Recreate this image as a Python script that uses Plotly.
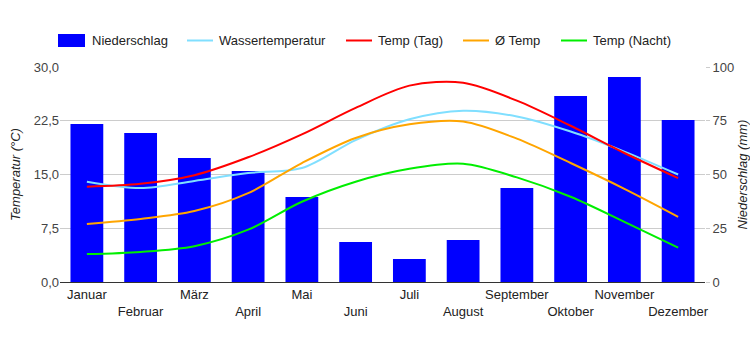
import plotly.graph_objects as go

months = ["Januar", "Februar", "März", "April", "Mai", "Juni", "Juli",
          "August", "September", "Oktober", "November", "Dezember"]
niederschlag = [73.5, 69.3, 57.7, 51.6, 39.5, 18.6, 10.7, 19.5, 43.7, 86.5, 95.3, 75.3]
wasser = [14.0, 13.1, 14.1, 15.2, 15.9, 19.8, 22.7, 23.9, 23.1, 21.0, 18.2, 15.0]
temp_tag = [13.3, 13.7, 14.9, 17.4, 20.6, 24.3, 27.4, 27.8, 25.3, 21.8, 18.0, 14.5]
temp_avg = [8.1, 8.8, 9.9, 12.4, 16.6, 20.1, 22.0, 22.4, 20.0, 16.6, 13.0, 9.1]
temp_nacht = [3.9, 4.2, 5.0, 7.3, 11.2, 14.0, 15.8, 16.5, 14.6, 11.9, 8.4, 4.8]

temp_ticks = [0, 7.5, 15, 22.5, 30]
rain_ticks = [0, 25, 50, 75, 100]

names = ["Niederschlag", "Wassertemperatur", "Temp (Tag)", "Ø Temp", "Temp (Nacht)"]
colors = ["#0000ff", "#80dfff", "#ff0000", "#ffa500", "#00ee00"]

ticktext = [m if i % 2 == 0 else "<br>" + m for i, m in enumerate(months)]

fig = go.Figure()
fig.add_trace(go.Bar(x=months, y=niederschlag, name=names[0], marker_color=colors[0],
                     marker_line_width=0, yaxis="y"))
for vals, nm, col in zip([wasser, temp_tag, temp_avg, temp_nacht], names[1:], colors[1:]):
    fig.add_trace(go.Scatter(x=months, y=vals, name=nm, mode="lines",
                             line=dict(color=col, width=2, shape="spline", smoothing=0.9),
                             yaxis="y2"))

# manual legend
L, R, T, B = 60, 705, 67, 282
W, H = R - L, B - T
def px(x):
    return (x - L) / W
def py(y):
    return (B - y) / H

legend_sym_x = [58, 187, 346, 463, 561]
legend_y = 40.5
shapes = []
annotations = []
for i, (nm, col, sx) in enumerate(zip(names, colors, legend_sym_x)):
    if i == 0:
        shapes.append(dict(type="rect", xref="paper", yref="paper",
                           x0=px(sx), x1=px(sx + 27), y0=py(legend_y + 6.5), y1=py(legend_y - 6.5),
                           fillcolor=col, line_width=0))
        tx = sx + 32
    else:
        shapes.append(dict(type="line", xref="paper", yref="paper",
                           x0=px(sx), x1=px(sx + 26), y0=py(legend_y), y1=py(legend_y),
                           line=dict(color=col, width=2)))
        tx = sx + 30
    annotations.append(dict(text=nm, xref="paper", yref="paper", x=px(tx), y=py(legend_y),
                            xanchor="left", yanchor="middle", showarrow=False,
                            font=dict(size=13, color="#222222")))

fig.update_layout(
    width=750, height=350,
    margin=dict(l=L, r=750 - R, t=T, b=350 - B, autoexpand=False),
    paper_bgcolor="white", plot_bgcolor="white",
    font=dict(family="Liberation Sans, Arial", size=13, color="#444444"),
    separators=",.",
    showlegend=False,
    bargap=0.39,
    shapes=shapes,
    annotations=annotations,
    xaxis=dict(tickvals=months, ticktext=ticktext, showgrid=False, ticks="",
               tickangle=0, automargin=False,
               showline=True, linecolor="#333333", linewidth=1,
               tickfont=dict(size=13, color="#222222")),
    yaxis=dict(range=[0, 100], tickvals=rain_ticks, side="right", showgrid=True,
               gridcolor="#cccccc", zeroline=False, ticks="outside", ticklen=4,
               tickcolor="#cccccc", automargin=False,
               title=dict(text="<i>Niederschlag (mm)</i>", font=dict(size=13, color="#222222"),
                          standoff=10),
               tickfont=dict(size=13, color="#444444")),
    yaxis2=dict(range=[0, 30], tickvals=temp_ticks, tickformat=".1f", side="left",
                overlaying="y", showgrid=False, zeroline=False, automargin=False,
                title=dict(text="<i>Temperatur (°C)</i>", font=dict(size=13, color="#222222"),
                           standoff=10),
                tickfont=dict(size=13, color="#444444")),
)

fig.write_html("out.html")
